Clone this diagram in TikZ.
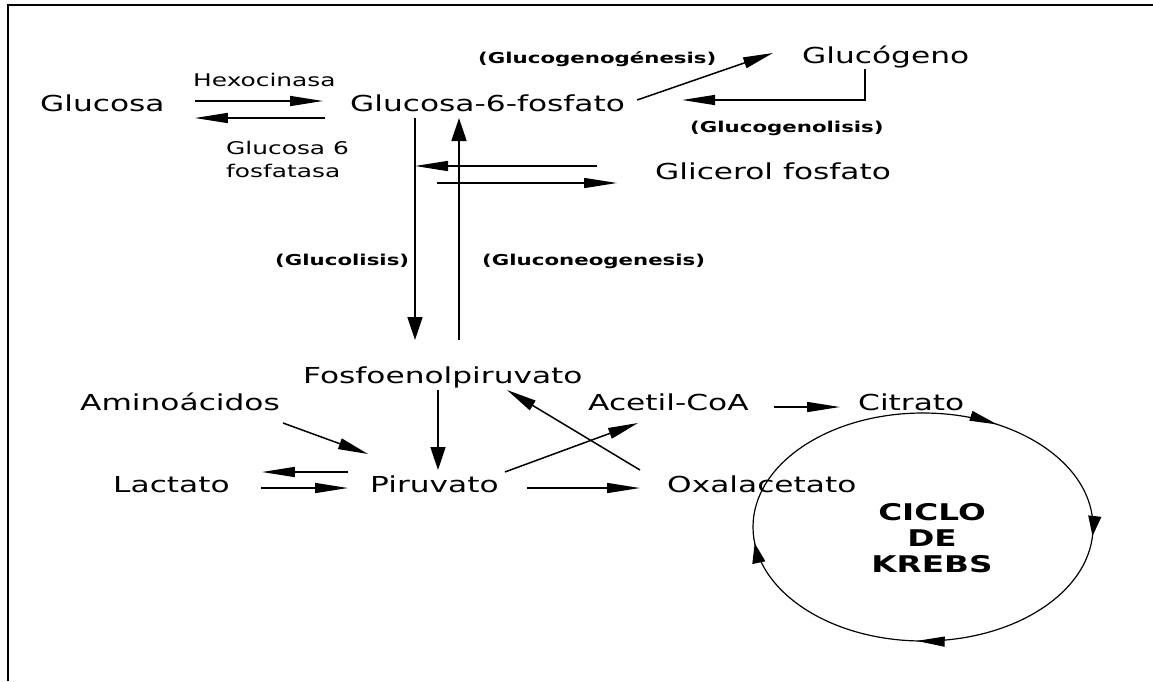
\documentclass[tikz,border=0pt]{standalone}
\usepackage{fontspec}
\setmainfont{DejaVu Sans}[FakeStretch=1.42]
\usetikzlibrary{arrows.meta,calc,decorations.markings}

\tikzset{
  met/.style={inner sep=0pt, anchor=base west, font=\fontsize{22}{26}\selectfont},
  enz/.style={inner sep=0pt, font=\fontsize{17.5}{23}\selectfont},
  proc/.style={inner sep=0pt, anchor=base west, font=\bfseries\fontsize{15}{18}\selectfont},
  harr/.style={-{Triangle[length=33pt,width=10pt]}, line width=1.5pt},
  varr/.style={-{Triangle[length=23pt,width=15pt]}, line width=1.5pt},
  darr/.style={-{Triangle[length=30pt,width=11pt]}, line width=1.5pt},
}

\begin{document}
\begin{tikzpicture}[x=1pt,y=-1pt]
    \useasboundingbox (0,0) rectangle (1153,681);
    % frame
    \draw[line width=1.5pt] (8,681) -- (8,5) -- (1153,5);

    % metabolites
    \node[met] (glc) at (40,111) {Glucosa};
    \node[met] (g6p) at (350,111) {Glucosa-6-fosfato};
    \node[met] (glg) at (802,63) {Glucógeno};
    \node[met] (glp) at (655,179) {Glicerol fosfato};
    \node[met] (pep) at (303,383) {Fosfoenolpiruvato};
    \node[met] (ami) at (80,410) {Aminoácidos};
    \node[met] (acc) at (588,410) {Acetil-CoA};
    \node[met] (cit) at (858,410) {Citrato};
    \node[met] (lac) at (113,492) {Lactato};
    \node[met] (pir) at (370,492) {Piruvato};
    \node[met] (oxa) at (667,492) {Oxalacetato};

    % enzymes and pathways
    \node[enz, anchor=base west] (hexo) at (193,86) {Hexocinasa};
    \node[enz, anchor=north west, align=left] (fosf) at (226,141) {Glucosa 6\\fosfatasa};
    \node[proc] (glgen) at (478,63) {(Glucogenogénesis)};
    \node[proc] (glgly) at (690,132) {(Glucogenolisis)};
    \node[proc] (glcl) at (275,265) {(Glucolisis)};
    \node[proc] (gneo) at (482,265) {(Gluconeogenesis)};

    % Glucosa <-> Glucosa-6-fosfato
    \draw[harr] ([xshift=30pt,yshift=10pt]glc.base east) -- ([xshift=-27pt,yshift=10pt]g6p.base west);
    \draw[harr] ([xshift=-25pt,yshift=-7pt]g6p.base west) -- ([xshift=30pt,yshift=-7pt]glc.base east);

    % glucogeno
    \draw[darr] ([xshift=12pt,yshift=11pt]g6p.base east) -- ([xshift=-29pt,yshift=10pt]glg.base west);
    \draw[harr] ([xshift=63pt,yshift=-6pt]glg.base west) |- ([xshift=57pt,yshift=11pt]g6p.base east);

    % glucolisis / gluconeogenesis
    \path ([xshift=65pt,yshift=-7pt]g6p.base west) coordinate (glytop)
          ([xshift=112pt,yshift=43pt]pep.base west) coordinate (glybot)
          ([xshift=109pt,yshift=-7pt]g6p.base west) coordinate (neotop)
          ([xshift=156pt,yshift=43pt]pep.base west) coordinate (neobot);
    \draw[varr] (glytop) -- (glybot);
    \draw[varr] (neobot) -- (neotop);

    % glicerol fosfato
    \draw[harr] ([xshift=-58pt,yshift=13pt]glp.base west) coordinate (g1) -- (g1 -| glytop);
    \path ([xshift=-38pt,yshift=-4pt]glp.base west) coordinate (g2);
    \draw[harr] ($(g2 -| glytop)+(22,0)$) -- (g2);

    % piruvato
    \draw[darr] ([xshift=3pt,yshift=-13pt]ami.base east) -- ([xshift=-2pt,yshift=38pt]pir.base west);
    \draw[harr] ([xshift=-22pt,yshift=20pt]pir.base west) -- ([xshift=32pt,yshift=20pt]lac.base east);
    \draw[harr] ([xshift=31pt,yshift=4pt]lac.base east) -- ([xshift=-22pt,yshift=4pt]pir.base west);
    \draw[varr] ([xshift=135pt,yshift=-7pt]pep.base west) -- ([xshift=68pt,yshift=22pt]pir.base west);
    \draw[harr] ([xshift=28pt,yshift=4pt]pir.base east) -- ([xshift=-27pt,yshift=4pt]oxa.base west);
    \draw[darr] ([xshift=6pt,yshift=20pt]pir.base east) -- ([xshift=50pt,yshift=-13pt]acc.base west);
    \draw[darr] ([xshift=-27pt,yshift=22pt]oxa.base west) -- ([xshift=204pt,yshift=-7pt]pep.base west);
    \draw[harr] ([xshift=25pt,yshift=3pt]acc.base east) -- ([xshift=-18pt,yshift=3pt]cit.base west);

    % ciclo de Krebs
    \draw[line width=1.2pt, postaction={decorate}, decoration={markings,
        mark=at position 0.01 with {\arrow{Triangle[length=20pt,width=13pt]}},
        mark=at position 0.257 with {\arrow{Triangle[length=28pt,width=10pt]}},
        mark=at position 0.482 with {\arrow{Triangle[length=20pt,width=13pt]}},
        mark=at position 0.834 with {\arrow{Triangle[length=28pt,width=10pt]}}}]
        (923,527) ellipse [x radius=170, y radius=114];
    \node[align=center, inner sep=0pt, font=\bfseries\fontsize{23}{26}\selectfont] (krebs) at (932,538) {CICLO\\DE\\KREBS};
\end{tikzpicture}
\end{document}
